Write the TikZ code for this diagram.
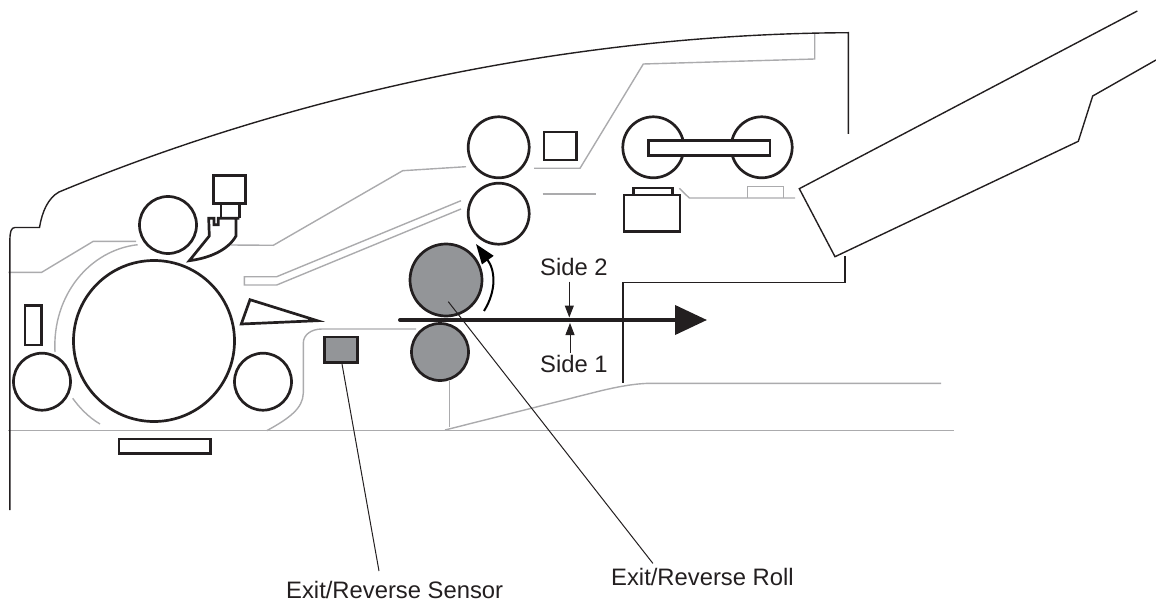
\documentclass[tikz,border=0pt]{standalone}
\usepackage{fontspec}
\setmainfont{Liberation Sans}
\usetikzlibrary{arrows.meta}
\definecolor{ink}{HTML}{231F20}
\definecolor{pathgray}{HTML}{ABABAD}
\definecolor{rollgray}{HTML}{939598}
\tikzset{
  part/.style={draw=ink,line width=2.7pt,line join=miter},
  roller/.style={part,circle,inner sep=0pt,fill=white},
  driven/.style={roller,fill=rollgray},
  frame/.style={draw=ink,line width=1.4pt,line join=miter},
  pathline/.style={draw=pathgray,line width=1.4pt,line join=miter},
  leader/.style={draw=ink,line width=1pt},
  lbl/.style={anchor=base west,inner sep=0pt,text=ink,font=\fontsize{23.8pt}{26pt}\selectfont},
  sidearrow/.style={draw=ink,line width=1pt,-{Triangle[length=12pt,width=9pt]}}
}
\begin{document}
\begin{tikzpicture}[x=1pt,y=-1pt]
\useasboundingbox (0,0) rectangle (1156,604);
% --- paper path guides (gray)
\draw[pathline] (8.3,272.3) -- (41.7,272.3) -- (93.3,241.3) -- (136,241.3);
\draw[pathline] (137.7,244.7) .. controls (90,250) and (52,295) .. (55,352);
\draw[pathline] (72.7,398.3) .. controls (79,407) and (88,417) .. (100,424);
\draw[pathline] (230.7,245) -- (273.3,245.3) -- (402.7,170.7) -- (466,166.7);
\draw[pathline] (534,168.3) -- (580,168.3) -- (643.3,64) -- (814.7,59) -- (814.7,33.5);
\draw[pathline] (461,200.7) -- (276.7,276.7) -- (244.3,276.7) -- (244.3,285) -- (276.7,285) -- (461,209);
\draw[pathline] (542.7,194) -- (595.7,194);
\draw[pathline] (416,329) -- (322,329) .. controls (311,329) and (303.3,335) .. (303.3,343) -- (303.3,393) .. controls (303,408) and (290,418) .. (266.7,430.7);
\draw[pathline] (449.3,381) -- (449.3,427);
\draw[pathline] (445,430) -- (590,393.5) .. controls (615,387) and (635,383.3) .. (651.7,383.3) -- (941,383.3);
\draw[pathline] (8,430.7) -- (954,430.7);
\draw[pathline] (679.3,188.3) -- (689.3,198) -- (795,198);
\draw[pathline] (747.7,198) -- (747.7,186.7) -- (783.3,186.7) -- (783.3,198);
% --- machine frame
\draw[frame] (9.9,510) -- (9.9,241) .. controls (9.9,232) and (11,227.5) .. (15,227.5) -- (39.5,227.5) .. controls (42,212) and (48,198) .. (59,192) .. controls (280,100) and (560,34) .. (848.3,32.7) -- (848.3,134);
\draw[frame] (845,256) -- (845,282.7) -- (623,282.7) -- (623,383.3);
\draw[frame] (1137.3,11) -- (799.3,188.7) -- (835,256.7) -- (1078.3,141.3) -- (1092.7,96) -- (1156,60);
% --- rollers
\node[roller,minimum size=161pt] (drum) at (154,341) {};
\node[roller,minimum size=57pt] (chargeroll) at (168,225) {};
\node[roller,minimum size=57pt] (leftroll) at (42,381.7) {};
\node[roller,minimum size=57pt] (rightroll) at (263,381.7) {};
\node[roller,minimum size=61pt] (upperroll) at (498.7,147.3) {};
\node[roller,minimum size=61pt] (lowerroll) at (498.7,213.7) {};
\node[roller,minimum size=61pt] (pairleft) at (653.3,147.3) {};
\node[roller,minimum size=61pt] (pairright) at (761.7,147.3) {};
\node[driven,minimum size=72pt] (exitroll) at (446,280) {};
\node[driven,minimum size=57pt] (backroll) at (440,352) {};
% --- rectangular parts
\draw[part,fill=white] (648.3,140.7) rectangle (770,155.7);
\draw[part] (25,305.7) rectangle (41.7,345);
\draw[part] (119,439) rectangle (210.7,453.7);
\draw[part] (544,132) rectangle (576.7,160);
\draw[part] (633.3,188) rectangle (672.3,195);
\draw[part] (624,195) rectangle (680,231.7);
\draw[part,fill=rollgray] (324.3,337) rectangle (357.7,362.3);
\draw[part] (250,299.7) -- (317.3,320.7) -- (241.3,324) -- cycle;
% --- charger / blade
\draw[part] (213.7,175.7) rectangle (245.7,203.7);
\draw[part] (221,203.7) -- (221,218.3);
\draw[part] (239.3,203.7) -- (239.3,218.3);
\draw[part] (189.3,260.7) -- (209.3,236) -- (208.7,218.3) -- (214,218.3) -- (214,224.7) -- (218.3,224.7) -- (218.3,218.3) -- (239.3,218.3) -- (236,218.3) -- (236,236) .. controls (228,250) and (210,258) .. (189.3,260.7) -- cycle;
% --- motion arrows
\coordinate (curvestart) at (484,311);
\coordinate (curvetip) at (476,244);
\draw[draw=black,line width=2pt,-{Triangle[length=20pt,width=14pt]}] (curvestart) .. controls (497,290) and (495,270) .. (curvetip);
\coordinate (sheetstart) at (400,320);
\coordinate (sheettip) at (707,320);
\draw[draw=ink,line width=4pt,line cap=round,-{Triangle[length=32pt,width=29pt]}] (sheetstart) -- (sheettip);
% --- labels
\node[lbl] (side2) at (540,275) {Side 2};
\node[lbl] (side1) at (540,372.3) {Side 1};
\node[lbl] (sensorlabel) at (286,598) {Exit/Reverse Sensor};
\node[lbl] (rolllabel) at (611,585.5) {Exit/Reverse Roll};
% --- leaders and side arrows
\coordinate (side2from) at (569.3,281.7);
\coordinate (side2to) at (569.3,317.5);
\coordinate (side1from) at (570,353);
\coordinate (side1to) at (570,323);
\draw[sidearrow] (side2from) -- (side2to);
\draw[sidearrow] (side1from) -- (side1to);
\coordinate (sensorfrom) at (341.7,362.3);
\coordinate (sensorend) at (379,571);
\coordinate (rollfrom) at (448.3,301.7);
\coordinate (rollend) at (652.9,563.4);
\draw[leader] (sensorfrom) -- (sensorend);
\draw[leader] (rollfrom) -- (rollend);
\end{tikzpicture}
\end{document}
